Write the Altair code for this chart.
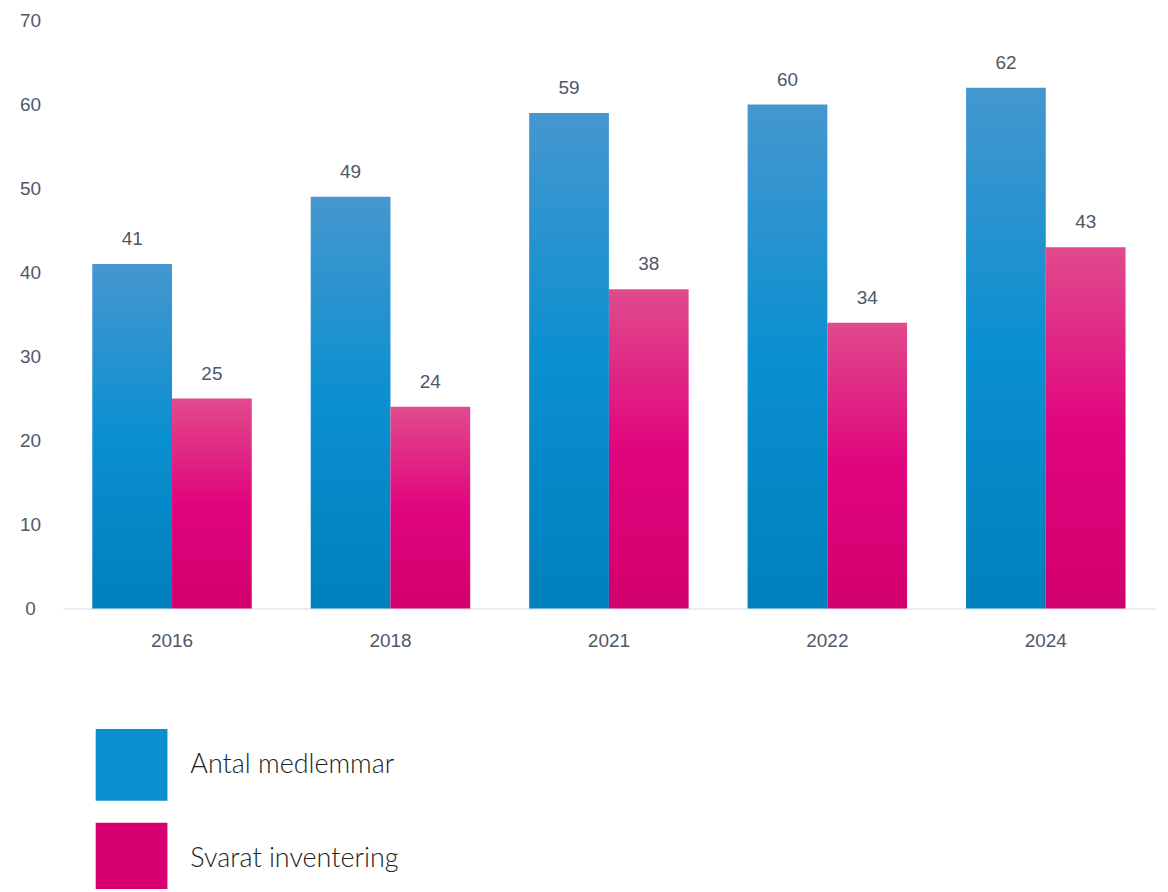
import altair as alt
import pandas as pd

years = ["2016", "2018", "2021", "2022", "2024"]
members = [41, 49, 59, 60, 62]
answered = [25, 24, 38, 34, 43]
series_names = ["Antal medlemmar", "Svarat inventering"]

rows = []
for y, m, a in zip(years, members, answered):
    rows.append({"year": y, "series": series_names[0], "value": m})
    rows.append({"year": y, "series": series_names[1], "value": a})
df = pd.DataFrame(rows)

blue_grad = {"gradient": "linear", "x1": 0, "y1": 0, "x2": 0, "y2": 1,
             "stops": [{"offset": 0, "color": "#4597cf"},
                       {"offset": 0.5, "color": "#0a8fd0"},
                       {"offset": 1, "color": "#0080bd"}]}
pink_grad = {"gradient": "linear", "x1": 0, "y1": 0, "x2": 0, "y2": 1,
             "stops": [{"offset": 0, "color": "#e04b8c"},
                       {"offset": 0.5, "color": "#e0057e"},
                       {"offset": 1, "color": "#d2006e"}]}

LABEL_FONT = "Liberation Sans"
LABEL_COLOR = "#4e5868"

x_enc = alt.X("year:N", sort=years, title=None,
              scale=alt.Scale(paddingInner=0.27, paddingOuter=0.135),
              axis=alt.Axis(labelAngle=0, ticks=False, domainColor="#e9ecf1",
                            domainWidth=2, labelPadding=23, labelFontSize=19,
                            labelColor=LABEL_COLOR, labelFont=LABEL_FONT))
xoff = alt.XOffset("series:N", sort=series_names,
                   scale=alt.Scale(domain=series_names, paddingInner=0, paddingOuter=0))
y_enc = alt.Y("value:Q", title=None,
              scale=alt.Scale(domain=[0, 70], nice=False),
              axis=alt.Axis(values=[0, 10, 20, 30, 40, 50, 60, 70], grid=False,
                            domain=False, ticks=False, labelPadding=33,
                            labelAlign="center",
                            labelFontSize=19, labelColor=LABEL_COLOR,
                            labelFont=LABEL_FONT))

base = alt.Chart(df)

bars_a = base.mark_bar(fill=blue_grad).encode(x=x_enc, xOffset=xoff, y=y_enc).transform_filter(
    alt.datum.series == series_names[0])
bars_b = base.mark_bar(fill=pink_grad).encode(x=x_enc, xOffset=xoff, y=y_enc).transform_filter(
    alt.datum.series == series_names[1])

labels = base.mark_text(baseline="alphabetic", dy=-19, fontSize=19,
                        font=LABEL_FONT, color=LABEL_COLOR).encode(
    x=x_enc, xOffset=xoff, y=y_enc, text="value:Q")

legend_layer = base.mark_square(opacity=0).encode(
    x=x_enc, xOffset=xoff, y=y_enc,
    color=alt.Color("series:N", sort=series_names,
                    scale=alt.Scale(domain=series_names, range=["#0a8fd0", "#d60073"]),
                    legend=alt.Legend(title=None, orient="none", legendX=33, legendY=711,
                                      direction="vertical", symbolType="square",
                                      symbolSize=5184, symbolOpacity=1,
                                      symbolStrokeWidth=0, rowPadding=22,
                                      labelOffset=23, labelFontSize=27,
                                      labelFont="Lato", labelFontWeight=300,
                                      labelColor="#222222", padding=0,
                                      labelLimit=500)))

chart = alt.layer(bars_a, bars_b, labels, legend_layer).properties(
    width=1096, height=590,
    autosize=alt.AutoSizeParams(type="none"),
    padding={"left": 55, "top": 11, "right": 5, "bottom": 280}
).configure_view(stroke=None)

chart.save("out.html", embed_options={"renderer": "svg", "actions": False})
